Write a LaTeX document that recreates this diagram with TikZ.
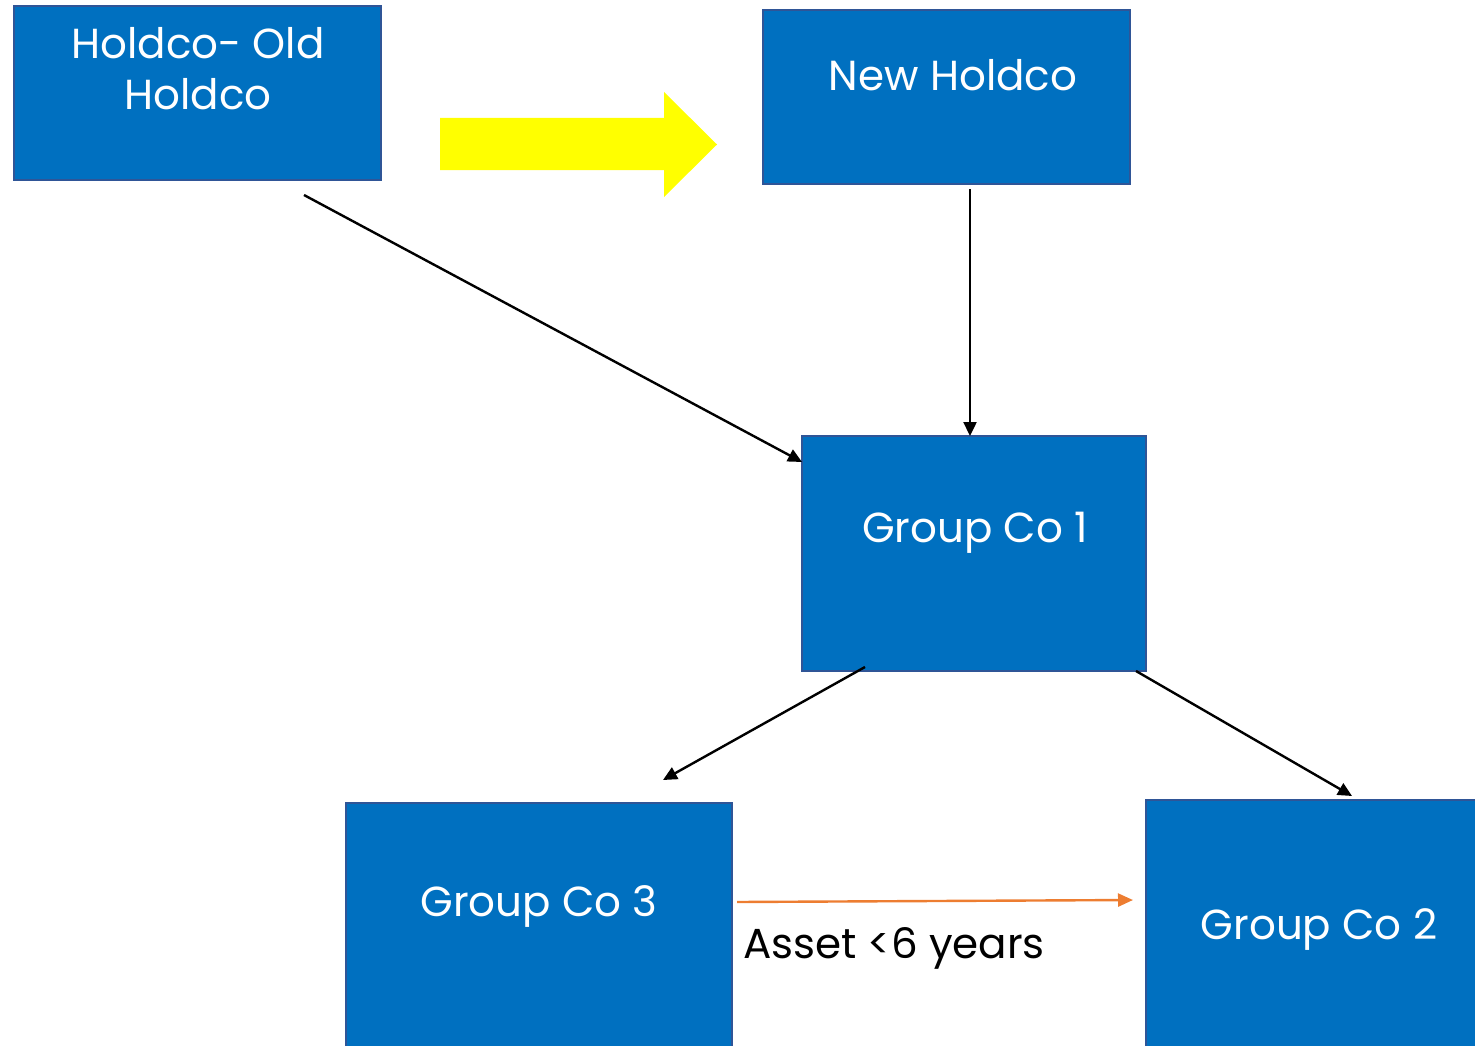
\documentclass[tikz,border=0pt]{standalone}
\usepackage{fontspec}
\setmainfont{Poppins}
\usetikzlibrary{arrows.meta,calc}
\definecolor{boxfill}{HTML}{0070C0}
\definecolor{boxline}{HTML}{2F5597}
\definecolor{flowor}{HTML}{ED7D31}
\definecolor{bigarrow}{HTML}{FFFF00}
\tikzset{
  x=1pt, y=-1pt,
  entity/.style={draw=boxline, line width=2pt, fill=boxfill, anchor=north west,
    inner sep=0pt, outer sep=0pt},
  entitytext/.style={text=white, font=\fontsize{42}{51}\selectfont, align=center,
    inner sep=0pt},
  owns/.style={line width=2.4pt, -{Triangle[length=14pt,width=13pt]}},
  transfer/.style={flowor, line width=2.4pt, -{Triangle[length=15pt,width=13pt]}},
}
\begin{document}
\begin{tikzpicture}
\useasboundingbox (0,0) rectangle (1475,1046);

% company boxes
\node[entity, minimum width=367, minimum height=174] (old) at (14,6) {};
\node[entity, minimum width=367, minimum height=174] (new) at (763,10) {};
\node[entity, minimum width=344, minimum height=235] (g1) at (802,436) {};
\node[entity, minimum width=386, minimum height=300] (g3) at (346,803) {};
\node[entity, minimum width=360, minimum height=300] (g2) at (1146,800) {};

% box captions
\node[entitytext] (oldt) at (198,69) {Holdco- Old\\Holdco};
\node[entitytext] (newt) at (953,75) {New Holdco};
\node[entitytext] (g1t) at (975,533) {Group Co 1};
\node[entitytext] (g3t) at (539,906) {Group Co 3};
\node[entitytext] (g2t) at (1319,929) {Group Co 2};

% restructuring arrow
\fill[bigarrow] (440,118) -- (664,118) -- (664,92) -- (717,144.5) -- (664,197)
  -- (664,170) -- (440,170) -- cycle;

% ownership links
\draw[owns] ($(old.south west)+(290,15)$) -- ($(g1.north west)+(0,26)$);
\draw[owns] ($(new.south west)+(207,5)$) -- ($(g1.north west)+(168,0)$);
\draw[owns] ($(g1.south west)+(63,-4)$) -- ($(g3.north west)+(317,-23)$);
\draw[owns] ($(g1.south east)+(-10,0)$) -- ($(g2.north west)+(206,-4)$);

% asset transfer
\draw[transfer] ($(g3.north east)+(5,99)$) -- ($(g2.north west)+(-13,100)$);
\node[anchor=west, inner sep=0pt, font=\fontsize{42}{50}\selectfont] (asset)
  at (743,948) {Asset <6 years};
\end{tikzpicture}
\end{document}
